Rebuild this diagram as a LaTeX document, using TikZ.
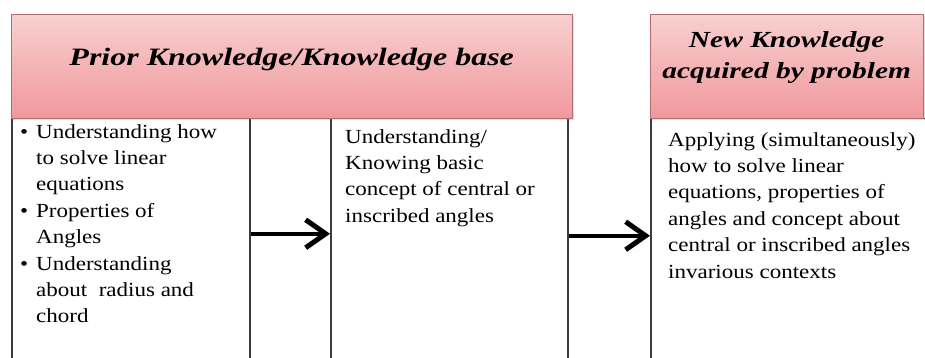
\documentclass[tikz,border=0pt]{standalone}
\usepackage{fontspec}
\usepackage{xcolor}
\usetikzlibrary{positioning,shadows,arrows.meta}
\setmainfont{Liberation Serif}
\newfontfamily\headfont[FakeStretch=1.28]{Liberation Serif}
\newfontfamily\bodyfont[FakeStretch=1.15]{Liberation Serif}
\definecolor{headtop}{RGB}{248,208,208}
\definecolor{headbot}{RGB}{240,152,156}
\definecolor{headline}{RGB}{176,110,112}
\definecolor{colline}{RGB}{60,60,60}
\newcommand{\bul}{\makebox[16pt][l]{\textbullet}}
\newcommand{\ind}{\hspace*{16pt}}

\begin{document}
\begin{tikzpicture}[
            x=1pt, y=-1pt,
            headbox/.style={rectangle, draw=headline, thin, top color=headtop, bottom color=headbot,
                anchor=north west, inner sep=0pt, align=center,
                font=\headfont\bfseries\itshape\fontsize{25}{31}\selectfont,
                drop shadow={opacity=0.25, shadow xshift=2pt, shadow yshift=-2pt}},
            colbox/.style={rectangle, draw=colline, line width=1.5pt, anchor=north west,
                inner sep=0pt, minimum height=302pt},
            coltext/.style={anchor=north west, inner sep=0pt, align=left,
                font=\bodyfont\fontsize{20}{26.4}\selectfont},
            arr/.style={-{Straight Barb[length=20pt,width=28pt,line width=5pt]}, line width=4pt}
        ]
            \useasboundingbox (0,0) rectangle (925,358);
            \clip (0,0) rectangle (925,358);
            % Columns
            \node[colbox, minimum width=238pt] (know)  at (11,118)  {};
            \node[colbox, minimum width=237pt] (basic) at (330,118) {};
            \node[colbox, minimum width=300pt] (apply) at (650,118) {};
            % Headers
            \node[headbox, minimum width=561pt, minimum height=104pt, text depth=18pt] (prior) at (11,14)
                {Prior Knowledge/Knowledge base};
            \node[headbox, minimum width=273pt, minimum height=104pt, text depth=22pt,
                font=\headfont\bfseries\itshape\fontsize{23}{31}\selectfont] (new) at (650,14)
                {New Knowledge\\acquired by problem};
            % Texts
            \node[coltext] (knowtxt) at (20,124)
                {\bul Understanding how\\ \ind to solve linear\\ \ind equations\\
                 \bul Properties of\\ \ind Angles\\
                 \bul Understanding\\ \ind about\ \ radius and\\ \ind chord};
            \node[coltext] (basictxt) at (345,129)
                {Understanding/\\Knowing basic\\concept of central or\\inscribed angles};
            \node[coltext] (applytxt) at (668,132)
                {Applying (simultaneously)\\how to solve linear\\equations, properties of\\
                 angles and concept about\\central or inscribed angles\\invarious contexts};
            % Arrows
            \draw[arr] ([yshift=36pt]know.east) -- ([yshift=36pt]basic.west);
            \draw[arr] ([yshift=34pt]basic.east) -- ([yshift=34pt]apply.west);
        \end{tikzpicture}
\end{document}
